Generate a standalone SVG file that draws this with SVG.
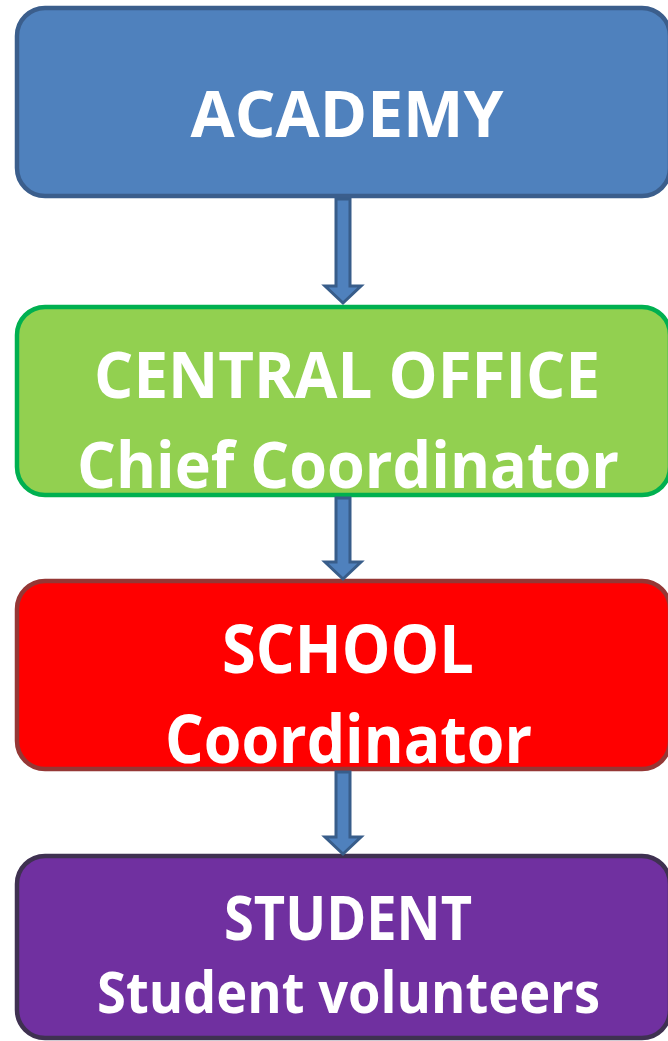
<svg xmlns="http://www.w3.org/2000/svg" width="668" height="1041" viewBox="0 0 668 1041">
<style>
.box{stroke-width:4.5}
.lbl{font-family:"Open Sans","Liberation Sans",sans-serif;font-weight:bold;fill:#ffffff;text-anchor:middle}
.arr{fill:#4F81BD;stroke:#385D8A;stroke-width:3;stroke-linejoin:miter}
</style>
<rect width="668" height="1041" fill="#ffffff"/>
<g id="academy">
<rect class="box" x="17" y="8" width="653" height="188" rx="28" fill="#4F81BD" stroke="#3B5E8C"/>
<text class="lbl" x="347" y="137" font-size="65" textLength="313" lengthAdjust="spacingAndGlyphs">ACADEMY</text>
</g>
<g id="central-office">
<rect class="box" x="17" y="307" width="653" height="188" rx="28" fill="#92D050" stroke="#00B050"/>
<text class="lbl" x="347" y="398" font-size="64" textLength="506" lengthAdjust="spacingAndGlyphs">CENTRAL OFFICE</text>
<text class="lbl" x="348" y="488" font-size="65" textLength="542" lengthAdjust="spacingAndGlyphs">Chief Coordinator</text>
</g>
<g id="school">
<rect class="box" x="17" y="581" width="653" height="188" rx="28" fill="#FF0000" stroke="#953735"/>
<text class="lbl" x="348" y="673" font-size="66" textLength="252" lengthAdjust="spacingAndGlyphs">SCHOOL</text>
<text class="lbl" x="348.5" y="763" font-size="66" textLength="367" lengthAdjust="spacingAndGlyphs">Coordinator</text>
</g>
<g id="student">
<rect class="box" x="17" y="856" width="653" height="182" rx="28" fill="#7030A0" stroke="#3F3151"/>
<text class="lbl" x="348" y="940" font-size="60" textLength="248" lengthAdjust="spacingAndGlyphs">STUDENT</text>
<text class="lbl" x="348.5" y="1013" font-size="58" textLength="503" lengthAdjust="spacingAndGlyphs">Student volunteers</text>
</g>
<g id="connectors">
<path class="arr" d="M336 199 H350 V286 H361 L343 303 L325 286 H336 Z"/>
<path class="arr" d="M336 498 H350 V562 H361 L343 579 L325 562 H336 Z"/>
<path class="arr" d="M336 772 H350 V837 H361 L343 854 L325 837 H336 Z"/>
</g>
</svg>
